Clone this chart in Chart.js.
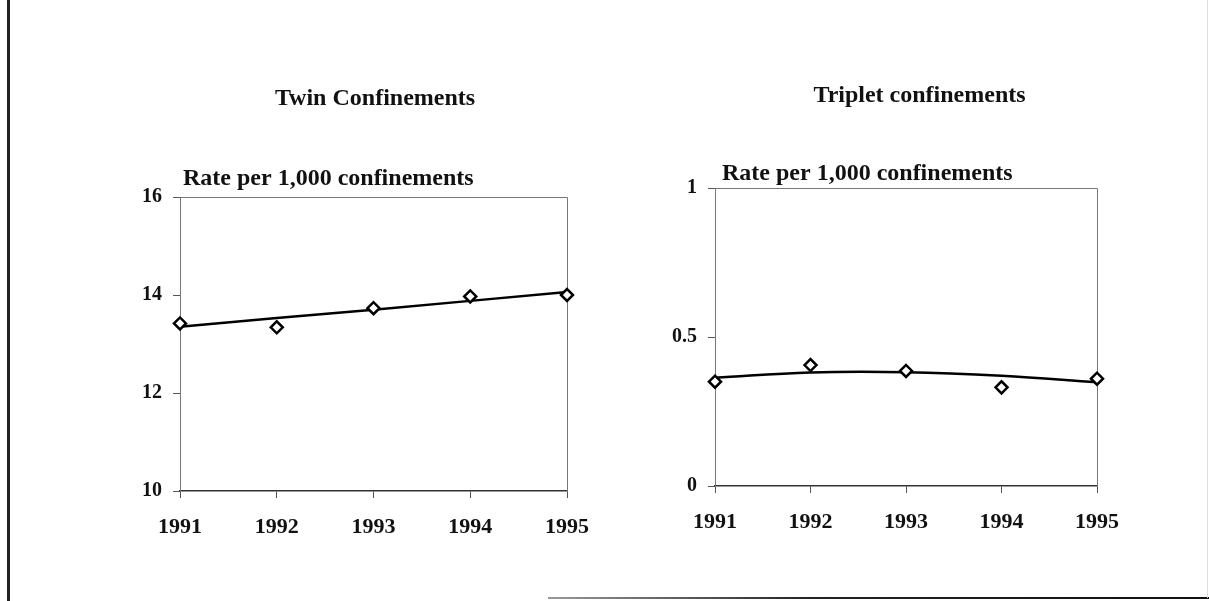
<!DOCTYPE html>
<html>
<head>
<meta charset="utf-8">
<script src="https://cdn.jsdelivr.net/npm/chart.js@4.4.1/dist/chart.umd.min.js"></script>
<style>
    html, body { margin: 0; padding: 0; background: #fff; }
    body { width: 1209px; height: 601px; position: relative; overflow: hidden; }
    canvas { position: absolute; top: 0; }
    #twinChart { left: 0; }
    #tripletChart { left: 605px; }
    .frame { position: absolute; }
    #frameLeft { left: 7px; top: 0; width: 3px; height: 601px; background: #222; }
    #frameBottom { left: 548px; top: 597px; width: 661px; height: 2px; background: linear-gradient(to right, #999, #222 40%, #111); }
    #frameRight { left: 1207px; top: 0; width: 1px; height: 598px; background: #ddd; }
</style>
</head>
<body>
<div class="frame" id="frameLeft"></div>
<div class="frame" id="frameBottom"></div>
<div class="frame" id="frameRight"></div>
<canvas id="twinChart" width="605" height="601"></canvas>
<canvas id="tripletChart" width="604" height="601"></canvas>
<script>
// data
const years = ['1991', '1992', '1993', '1994', '1995'];

const twinTitle = 'Twin Confinements';
const twinRates = [13.42, 13.34, 13.73, 13.97, 14.0];
const twinTrend = [13.35, 13.53, 13.70, 13.88, 14.06];
const twinTicks = [10, 12, 14, 16];

const tripletTitle = 'Triplet confinements';
const tripletRates = [0.350, 0.406, 0.386, 0.331, 0.360];
const tripletTrend = [0.363, 0.381, 0.382, 0.370, 0.348];
const tripletTicks = [0, 0.5, 1];

const unitLabel = 'Rate per 1,000 confinements';

const FONT = '"Liberation Serif", "Times New Roman", serif';

// draws the plot box and the two captions over each chart
const captionPlugin = {
    id: 'captions',
    beforeDatasetsDraw(chart) {
        let a = chart.chartArea;
        let ctx = chart.ctx;
        ctx.save();
        ctx.strokeStyle = '#777';
        ctx.lineWidth = 1;
        ctx.beginPath();
        ctx.moveTo(a.left, a.top + 0.5);
        ctx.lineTo(a.right + 0.5, a.top + 0.5);
        ctx.lineTo(a.right + 0.5, a.bottom);
        ctx.stroke();
        ctx.restore();
    },
    afterDraw(chart, args, opts) {
        let a = chart.chartArea;
        let ctx = chart.ctx;
        ctx.save();
        ctx.fillStyle = '#111';
        ctx.font = 'bold 24px ' + FONT;
        ctx.textBaseline = 'alphabetic';
        ctx.textAlign = 'center';
        ctx.fillText(opts.title, (a.left + a.right) / 2 + opts.titleShift, opts.titleBaseline);
        ctx.textAlign = 'left';
        ctx.fillText(unitLabel, a.left + opts.unitShift, a.top - opts.unitRaise);
        ctx.restore();
    }
};

function makeChart(canvasId, rates, trend, ticks, tension, padding, captions) {
    let ctx = document.getElementById(canvasId).getContext('2d');
    return new Chart(ctx, {
        type: 'line',
        data: {
            labels: years,
            datasets: [{
                label: 'Rate',
                data: rates,
                showLine: false,
                pointStyle: 'rectRot',
                pointRadius: 6,
                pointBorderWidth: 2.5,
                pointBackgroundColor: '#fff',
                pointBorderColor: '#000',
                order: 0
            }, {
                label: 'Trend',
                data: trend,
                borderColor: '#000',
                borderWidth: 2.5,
                pointRadius: 0,
                tension: tension,
                order: 1
            }]
        },
        options: {
            responsive: false,
            animation: false,
            layout: { padding: padding },
            plugins: {
                legend: { display: false },
                tooltip: { enabled: false },
                captions: captions
            },
            scales: {
                x: {
                    offset: false,
                    afterFit: (scale) => { scale.height = 60; },
                    grid: { drawOnChartArea: false, tickLength: 7, color: '#555' },
                    border: { color: '#333', width: 1.5 },
                    ticks: {
                        color: '#111',
                        padding: 16,
                        maxRotation: 0,
                        font: { family: FONT, size: 22, weight: 'bold' }
                    }
                },
                y: {
                    min: ticks[0],
                    max: ticks[ticks.length - 1],
                    afterFit: (scale) => { scale.width = 60; },
                    afterBuildTicks: (scale) => { scale.ticks = ticks.map(v => ({ value: v })); },
                    grid: { drawOnChartArea: false, tickLength: 7, color: '#555' },
                    border: { color: '#777', width: 1 },
                    ticks: {
                        color: '#111',
                        padding: 11,
                        callback: (v) => '' + v,
                        font: { family: FONT, size: 20, weight: 'bold' }
                    }
                }
            }
        },
        plugins: [captionPlugin]
    });
}

makeChart('twinChart', twinRates, twinTrend, twinTicks, 0,
    { left: 120, right: 35, top: 197, bottom: 50 },
    { title: twinTitle, titleShift: 1.5, titleBaseline: 105, unitShift: 3, unitRaise: 12 });

makeChart('tripletChart', tripletRates, tripletTrend, tripletTicks, 0.4,
    { left: 50, right: 112, top: 188, bottom: 55 },
    { title: tripletTitle, titleShift: 13.5, titleBaseline: 102, unitShift: 7, unitRaise: 8 });
</script>
</body>
</html>
